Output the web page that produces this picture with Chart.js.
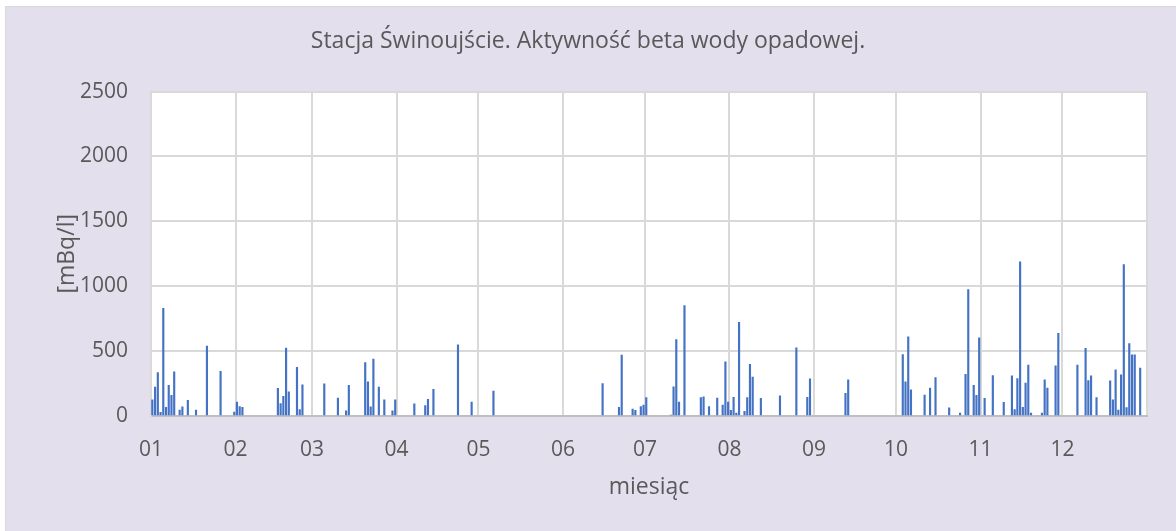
<!DOCTYPE html>
<html>
<head>
<meta charset="utf-8">
<script src="https://cdn.jsdelivr.net/npm/chart.js@4/dist/chart.umd.min.js"></script>
<style>
  body { margin: 0; background: #fff; }
  canvas { display: block; }
</style>
</head>
<body>
<canvas id="chart" width="1176" height="531"></canvas>
<script>
// Daily beta activity of precipitation, Swinoujscie station (day of year, 0 = 1 Jan)
const dayOfYear = [
  0, 1, 2, 3, 4, 5, 6, 7, 8, 10, 11, 13, 16, 20, 25, 30,
  31, 32, 33, 46, 47, 48, 49, 50, 53, 54, 55,
  63, 68, 71, 72, 78, 79, 80, 81, 83, 85, 88, 89,
  96, 100, 101, 103, 112, 117,
  125,
  165, 171, 172, 176, 177, 179, 180,
  181, 190, 191, 192, 193, 195, 201, 202, 204, 207, 209, 210, 211,
  212, 213, 214, 215, 217, 218, 219, 220, 223, 230, 236, 240, 241,
  254, 255,
  275, 276, 277, 278, 283, 285, 287, 292, 296, 298, 299, 301, 302, 303,
  305, 308, 312, 315, 316, 317, 318, 319, 320, 321, 322, 326, 327, 328, 331, 332,
  339, 342, 343, 344, 346, 351, 352, 353, 354, 355, 356, 357, 358, 359, 360, 362
];
const betaActivity = [
  124, 222, 335, 28, 830, 67, 237, 160, 340, 46, 70, 121, 46, 539, 345, 31,
  108, 72, 67, 214, 95, 152, 523, 186, 376, 49, 240,
  247, 139, 39, 237, 412, 263, 70, 438, 222, 124, 39, 124,
  93, 80, 129, 206, 549, 108,
  193,
  250, 67, 469, 54, 44, 72, 85,
  142, 8, 224, 588, 108, 850, 142, 147, 72, 139, 85, 417, 108,
  44, 144, 23, 722, 36, 142, 399, 299, 137, 155, 526, 144, 286,
  175, 278,
  474, 263, 611, 201, 162, 216, 296, 62, 23, 322, 974, 237, 160, 603,
  137, 312, 106, 309, 49, 289, 1188, 67, 253, 392, 23, 23, 278, 216, 387, 637,
  392, 521, 273, 309, 142, 271, 124, 356, 46, 317, 1167, 64, 559, 472, 472, 369
];

// Month boundaries (day of year) and their labels
const monthStarts = [0, 31, 59, 90, 120, 151, 181, 212, 243, 273, 304, 334, 365];
const monthLabels = ['01', '02', '03', '04', '05', '06', '07', '08', '09', '10', '11', '12'];

const textColor = '#595959';
const gridColor = '#d9d9d9';

// Lavender frame and white plot area
const framePlugin = {
  id: 'frame',
  beforeDraw(chart) {
    const { ctx, width, height, chartArea: a } = chart;
    ctx.save();
    ctx.fillStyle = '#ffffff';
    ctx.fillRect(0, 0, width, height);
    ctx.fillStyle = '#e4dfec';
    ctx.fillRect(5, 6, width - 5, height - 6);
    ctx.strokeStyle = '#d9d9d9';
    ctx.lineWidth = 1;
    ctx.beginPath();
    ctx.moveTo(5.5, height);
    ctx.lineTo(5.5, 6.5);
    ctx.lineTo(width, 6.5);
    ctx.stroke();
    ctx.fillStyle = '#ffffff';
    ctx.fillRect(a.left, a.top, a.right - a.left, a.bottom - a.top);
    ctx.restore();
  }
};

Chart.defaults.font.family = '"Open Sans", sans-serif';
Chart.defaults.color = textColor;

new Chart(document.getElementById('chart'), {
  type: 'bar',
  data: {
    datasets: [{
      data: dayOfYear.map((d, i) => ({ x: d + 0.5, y: betaActivity[i] })),
      xAxisID: 'x',
      yAxisID: 'y',
      backgroundColor: '#4472c4',
      borderWidth: 0,
      barThickness: 1.5
    }]
  },
  options: {
    responsive: false,
    animation: false,
    layout: { padding: 0 },
    plugins: {
      legend: { display: false },
      tooltip: { enabled: false },
      title: {
        display: true,
        text: 'Stacja Świnoujście. Aktywność beta wody opadowej.',
        color: textColor,
        font: { size: 23, weight: 'normal' },
        padding: { top: 28, bottom: 36 }
      }
    },
    scales: {
      x: {
        type: 'linear',
        min: 0,
        max: 365,
        offset: false,
        grid: { offset: false, color: gridColor, lineWidth: 2, drawTicks: false },
        border: { color: '#bfbfbf', width: 2 },
        afterBuildTicks: s => { s.ticks = monthStarts.map(v => ({ value: v })); },
        afterFit: s => { s.height = 115; },
        ticks: {
          autoSkip: false,
          maxRotation: 0,
          padding: 21,
          font: { size: 21 },
          callback: (value, i) => monthLabels[i] ?? ''
        },
        title: {
          display: true,
          text: 'miesiąc',
          font: { size: 23 },
          padding: { top: 0, bottom: 30 }
        }
      },
      y: {
        min: 0,
        max: 2500,
        grid: { color: gridColor, lineWidth: 2, drawTicks: false },
        border: { color: gridColor, width: 2 },
        afterFit: s => { s.width = 151; },
        ticks: { stepSize: 500, padding: 23, font: { size: 21 }, callback: v => String(v) },
        title: {
          display: true,
          text: '[mBq/l]',
          font: { size: 23 },
          padding: { top: 54, bottom: 0 }
        }
      },
      // empty right-hand strip so the title stays centred on the whole canvas
      yPad: {
        axis: 'y',
        position: 'right',
        min: 0,
        max: 2500,
        grid: { display: false },
        border: { display: false },
        ticks: { display: false },
        afterFit: s => { s.width = 29; }
      }
    }
  },
  plugins: [framePlugin]
});
</script>
</body>
</html>
